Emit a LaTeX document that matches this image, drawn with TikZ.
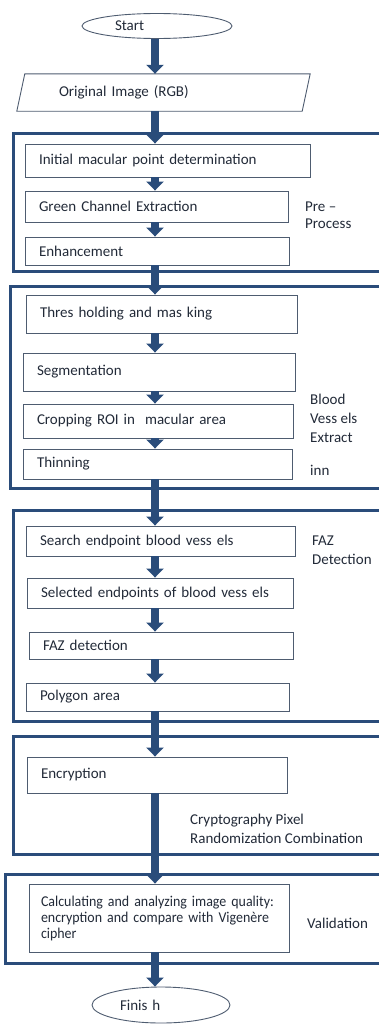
\documentclass[tikz,border=0pt]{standalone}
\usepackage{fontspec}
\setmainfont{Carlito}
\newfontfamily\narrowfont[FakeStretch=0.93]{Carlito}
\usetikzlibrary{shapes.geometric,arrows.meta}
\definecolor{flowblue}{RGB}{42,76,122}
\definecolor{boxline}{RGB}{78,92,112}
\definecolor{txt}{RGB}{34,42,56}
\tikzset{
	proc/.style={draw=boxline, line width=0.9pt, rectangle, align=left, inner xsep=14pt, inner ysep=0pt, text=txt, font=\fontsize{15}{18}\selectfont},
	term/.style={draw=boxline, line width=0.9pt, ellipse, align=left, inner sep=0pt, text=txt, font=\fontsize{15}{18}\selectfont},
	io/.style={rectangle, align=left, inner sep=0pt, text=txt, font=\fontsize{15}{18}\selectfont},
	grp/.style={draw=flowblue, line width=3.2pt, anchor=north west, inner sep=0pt, minimum width=400pt},
	side/.style={anchor=west, align=left, inner sep=0pt, text=txt, font=\fontsize{15}{19}\selectfont},
	flow/.style={draw=flowblue, line width=7.5pt, -{Triangle[length=9pt,width=17pt]}}
}
\begin{document}
\begin{tikzpicture}[x=1pt,y=-1pt]
	\useasboundingbox (0,0) rectangle (378,1036);
	% group frames
	\node[grp, minimum height=138pt] (grp1) at (12,132) {};
	\node[grp, minimum height=202pt] (grp2) at (9,285) {};
	\node[grp, minimum height=211pt] (grp3) at (12,509) {};
	\node[grp, minimum height=118pt] (grp4) at (12,735) {};
	\node[grp, minimum height=89pt] (grp5) at (4,873) {};
	% steps
	\node[term, minimum width=150pt, minimum height=25pt, text width=84pt] (start) at (157,26) {Start};
	\node[io, minimum width=293pt, minimum height=37pt, text width=209pt] (orig) at (163.5,92.5) {Original Image (RGB)};
	\draw[boxline, line width=0.9pt] (orig.south west) -- ([xshift=8pt]orig.north west) -- (orig.north east) -- ([xshift=-8pt]orig.south east) -- cycle;
	\node[proc, minimum height=33pt, text width=257pt] (init) at (167.5,160.5) {Initial macular point determination};
	\node[proc, minimum height=31pt, text width=235pt] (green) at (156.5,206.5) {Green Channel Extraction};
	\node[proc, minimum height=28pt, text width=236pt] (enh) at (157,251) {Enhancement};
	\node[proc, minimum height=38pt, text width=243pt] (thresh) at (161.5,314) {Thres holding and mas king};
	\node[proc, minimum height=38pt, text width=244pt] (seg) at (159,372) {Segmentation};
	\node[proc, minimum height=34pt, text width=242pt] (crop) at (158,421) {Cropping ROI in~ macular area};
	\node[proc, minimum height=30pt, text width=241pt] (thin) at (157.5,464) {Thinning};
	\node[proc, minimum height=30pt, text width=241pt] (search) at (160.5,541) {Search endpoint blood vess els};
	\node[proc, minimum height=30pt, text width=238pt] (sel) at (160,593) {Selected endpoints of blood vess els};
	\node[proc, minimum height=27pt, text width=236pt] (faz) at (161,645.5) {FAZ detection};
	\node[proc, minimum height=28pt, text width=235pt] (poly) at (157.5,697) {Polygon area};
	\node[proc, minimum height=36pt, text width=232pt] (enc) at (157,775) {Encryption};
	\node[proc, minimum height=68pt, inner xsep=12pt, text width=236pt, font=\narrowfont\fontsize{15}{16}\selectfont] (calc) at (159,918) {\hyphenpenalty=10000 Calculating and analyzing image quality:\\encryption and compare with Vigenère\\cipher};
	\node[term, minimum width=138pt, minimum height=36pt, text width=82pt] (finish) at (161,1005) {Finis h};
	% side labels
	\node[side, font=\fontsize{15}{17}\selectfont] (prelab) at (305,215.5) {Pre –\\Process};
	\node[side] (bloodlab) at (310,418) {Blood\\Vess els\\Extract};
	\node[side] (innlab) at (310,470) {inn};
	\node[side] (fazlab) at (312,550.5) {FAZ\\Detection};
	\node[side] (cryptlab) at (190,828.5) {Cryptography Pixel\\Randomization Combination};
	\node[side] (vallab) at (307,923) {Validation};
	% arrows
	\coordinate (ax) at (155,0);
	\foreach \a/\b in {start/orig, orig/init, init/green, green/enh, enh/thresh, thresh/seg, seg/crop, crop/thin, thin/search, search/sel, sel/faz, faz/poly, poly/enc, enc/calc, calc/finish}
		\draw[flow] (\a.south -| ax) -- (\b.north -| ax);
\end{tikzpicture}
\end{document}
